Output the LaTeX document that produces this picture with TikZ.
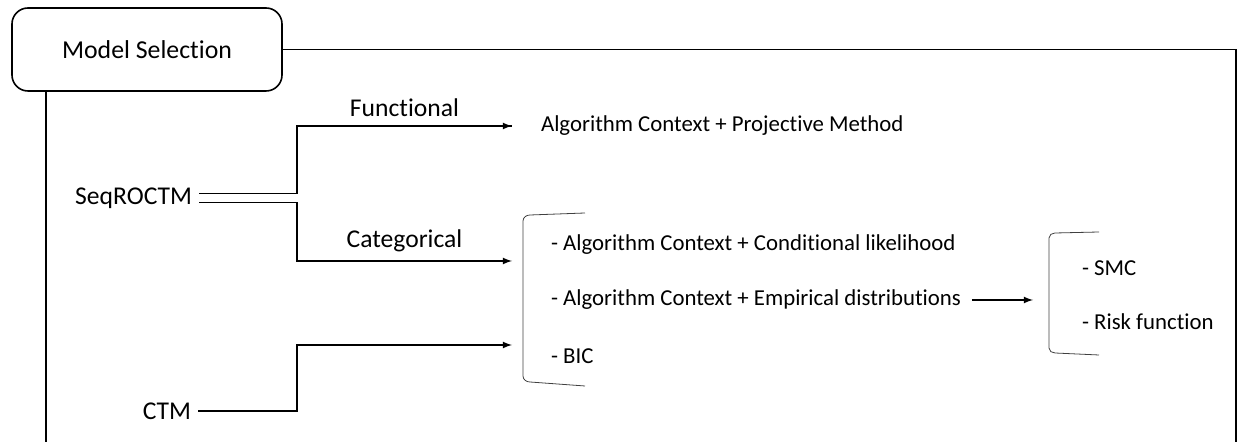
\documentclass[tikz,border=0pt]{standalone}
\usepackage{fontspec}
\setmainfont{Carlito}[Ligatures=NoCommon]
\usetikzlibrary{positioning}

\begin{document}
\begin{tikzpicture}[
x=0.5pt,y=-0.5pt,
titlebox/.style={
  draw,
  thick,
  rounded corners=8pt,
  minimum width=135pt,
  minimum height=41.5pt,
  font=\fontsize{12.9}{15}\selectfont
  },
bigtext/.style={font=\fontsize{12.8}{15}\selectfont},
itemtext/.style={anchor=west,font=\fontsize{11.4}{13}\selectfont},
conn/.style={semithick},
brack/.style={draw=black!75,thin}
]
\useasboundingbox (0,0) rectangle (1239,442);
% frame
\node[titlebox] (title) at (147,49.5) {Model Selection};
\draw[thick] (title.east) -| (1236,442);
\draw[thick] ([xshift=17.5pt]title.south west) -- ++(0,351);
% sources
\node[bigtext,anchor=east] (seq) at (199,198) {SeqROCTM};
\node[bigtext,anchor=east] (ctm) at (198,411) {CTM};
\coordinate (fork) at (297,0);
\coordinate (fin) at (512,126);
\coordinate (cin1) at (512,261);
\coordinate (cin2) at (512,345);
\coordinate (rin) at (1033,300);
% targets
\node[itemtext] (proj) at (534,126) {Algorithm Context + Projective Method};
\foreach \Name/\Y/\Text in {i1/245/Conditional likelihood,i2/300/Empirical distributions}
  \node[itemtext] (\Name) at (544,\Y) {- Algorithm Context + \Text};
\node[itemtext] (i3) at (544,356) {- BIC};
\node[itemtext] (smc) at (1075,268) {- SMC};
\node[itemtext] (risk) at (1075,322) {- Risk function};
% brackets
\draw[brack] (585,213) -- (530,215) to[out=180,in=90] (523,221) -- (523,376)
  to[out=-90,in=180] (530,382) -- (585,386);
\draw[brack] (1099,232) -- (1055,233) to[out=180,in=90] (1049,238) -- (1049,348)
  to[out=-90,in=180] (1055,353) -- (1099,355);
% connectors
\draw[conn] ([yshift=2.25pt]seq.east) -- ([yshift=2.25pt]seq.east -| fork)
  |- node[bigtext,pos=0.75,above=1pt] (funclbl) {Functional} (fin);
\draw[conn,-latex] ([yshift=2.25pt]seq.east -| fork) |- (fin);
\draw[conn,-latex] ([yshift=-2.25pt]seq.east) -- ([yshift=-2.25pt]seq.east -| fork)
  |- node[bigtext,pos=0.75,above=1pt] (catlbl) {Categorical} (cin1);
\draw[conn,-latex] (ctm.east) -| (cin2 -| fork) -- (cin2);
\draw[conn,-latex] ([xshift=2pt]i2.east) -- (rin);
\end{tikzpicture}
\end{document}
